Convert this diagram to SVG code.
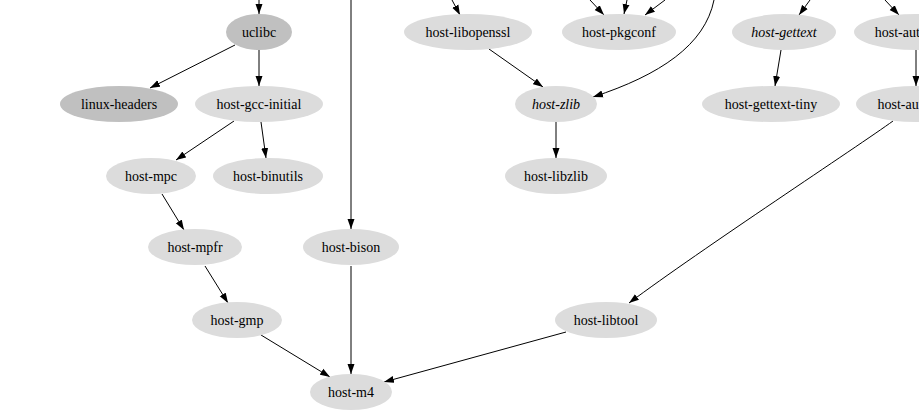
<svg xmlns="http://www.w3.org/2000/svg" width="919" height="411" viewBox="0 0 919 411">
<style>
.n ellipse{fill:#dcdcdc;stroke:none}
.n.dark ellipse{fill:#c0c0c0}
.n text{font-family:"Liberation Serif","Times New Roman",serif;font-size:14px;fill:#000;text-anchor:middle}
.n.it text{font-style:italic}
#edges path{fill:none;stroke:#000;stroke-width:1;marker-end:url(#arr)}
</style>
<defs>
<marker id="arr" markerUnits="userSpaceOnUse" markerWidth="10" markerHeight="8" refX="10" refY="3.5" orient="auto" viewBox="0 0 10 7">
<path d="M0,0 L10,3.5 L0,7 z" fill="#000"/>
</marker>
</defs>
<rect width="919" height="411" fill="#fff"/>
<g id="edges">
<path d="M259,0 L259,14"/>
<path d="M351,0 L351,229"/>
<path d="M235,45 L150,88"/>
<path d="M259,50 L259,86"/>
<path d="M234,121 L176,160"/>
<path d="M261,122 L266,158"/>
<path d="M162,194 L184,230"/>
<path d="M205,266 L228,303"/>
<path d="M261,335 L330,377"/>
<path d="M351,266 L351,374"/>
<path d="M566,332 L384,382"/>
<path d="M893,121 C860,145 700,250 629,303"/>
<path d="M916,50 L916,86"/>
<path d="M452,0 L460,15"/>
<path d="M590,0 L604,15"/>
<path d="M627,0 L624,14"/>
<path d="M665,0 L645,15"/>
<path d="M810,0 L799,15"/>
<path d="M885,0 L899,15"/>
<path d="M489,49 L543,87"/>
<path d="M714,0 C705,45 660,75 593,97"/>
<path d="M556,122 L556,158"/>
<path d="M781,50 L775,86"/>
</g>
<g id="uclibc" class="n dark"><ellipse cx="259" cy="32" rx="33" ry="18"/><text x="259" y="37">uclibc</text></g>
<g id="linux-headers" class="n dark"><ellipse cx="119" cy="104" rx="59" ry="18"/><text x="119" y="109">linux-headers</text></g>
<g id="host-gcc-initial" class="n"><ellipse cx="259" cy="104" rx="64" ry="18"/><text x="259" y="109">host-gcc-initial</text></g>
<g id="host-mpc" class="n"><ellipse cx="151" cy="176" rx="45" ry="18"/><text x="151" y="181">host-mpc</text></g>
<g id="host-binutils" class="n"><ellipse cx="268" cy="176" rx="55" ry="18"/><text x="268" y="181">host-binutils</text></g>
<g id="host-mpfr" class="n"><ellipse cx="195" cy="247" rx="47" ry="18"/><text x="195" y="252">host-mpfr</text></g>
<g id="host-bison" class="n"><ellipse cx="351" cy="247" rx="48" ry="18"/><text x="351" y="252">host-bison</text></g>
<g id="host-gmp" class="n"><ellipse cx="237" cy="320" rx="45" ry="18"/><text x="237" y="325">host-gmp</text></g>
<g id="host-m4" class="n"><ellipse cx="351" cy="392" rx="41" ry="18"/><text x="351" y="397">host-m4</text></g>
<g id="host-libtool" class="n"><ellipse cx="606" cy="320" rx="51" ry="18"/><text x="606" y="325">host-libtool</text></g>
<g id="host-libopenssl" class="n"><ellipse cx="468" cy="32" rx="64" ry="18"/><text x="468" y="37">host-libopenssl</text></g>
<g id="host-pkgconf" class="n"><ellipse cx="619" cy="32" rx="57" ry="18"/><text x="619" y="37">host-pkgconf</text></g>
<g id="host-gettext" class="n it"><ellipse cx="784" cy="32" rx="52" ry="18"/><text x="784" y="37">host-gettext</text></g>
<g id="host-automake" class="n"><ellipse cx="916" cy="32" rx="62" ry="18"/><text x="916" y="37">host-automake</text></g>
<g id="host-zlib" class="n it"><ellipse cx="556" cy="104" rx="41" ry="18"/><text x="556" y="109">host-zlib</text></g>
<g id="host-gettext-tiny" class="n"><ellipse cx="771" cy="104" rx="69" ry="18"/><text x="771" y="109">host-gettext-tiny</text></g>
<g id="host-autoconf" class="n"><ellipse cx="916" cy="104" rx="60" ry="18"/><text x="916" y="109">host-autoconf</text></g>
<g id="host-libzlib" class="n"><ellipse cx="556" cy="176" rx="51" ry="18"/><text x="556" y="181">host-libzlib</text></g>
</svg>
